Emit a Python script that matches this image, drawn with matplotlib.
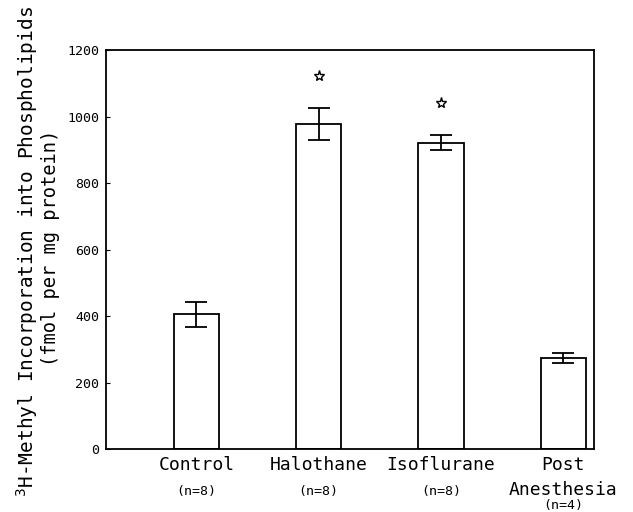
import numpy as np
import matplotlib
matplotlib.use('Agg')
import matplotlib.pyplot as plt
import matplotlib.transforms as mtransforms

groups = ['Control', 'Halothane', 'Isoflurane', 'Post\nAnesthesia']
n_labels = ['(n=8)', '(n=8)', '(n=8)', '(n=4)']
means = [405, 978, 922, 273]
errors = [38, 48, 22, 15]
star_y = [None, 1122, 1040, None]

plt.rcParams['font.family'] = 'DejaVu Sans Mono'

fig = plt.figure(figsize=(6.33, 5.12), dpi=100)
ax = fig.add_axes([0.1675, 0.123, 0.7705, 0.779])

x = np.arange(1, len(groups) + 1)
ax.bar(x, means, width=0.37, color='white', edgecolor='black', linewidth=1.3)
ax.errorbar(x, means, yerr=errors, fmt='none', ecolor='black',
            elinewidth=1.3, capsize=8, capthick=1.3)
for xi, sy in zip(x, star_y):
    if sy is not None:
        ax.plot(xi, sy, marker='*', markersize=8, markerfacecolor='white',
                markeredgecolor='black', markeredgewidth=1.0)

ax.set_xlim(0.26, 4.25)
ax.set_ylim(0, 1200)
ax.set_yticks(np.arange(0, 1201, 200))
ax.set_xticks([])
ax.tick_params(axis='y', direction='in', length=3, labelsize=9.5, pad=5)
for s in ax.spines.values():
    s.set_linewidth(1.3)

# category labels under the bars
trans = mtransforms.blended_transform_factory(ax.transData, fig.transFigure)
for xi, g, nl in zip(x, groups, n_labels):
    lines = g.split('\n')
    y0 = 1 - 465 / 512
    for k, line in enumerate(lines):
        ax.text(xi, y0 - k * 0.048, line, transform=trans, ha='center',
                va='center', fontsize=13)
    ny = 1 - (491 + (len(lines) - 1) * 15) / 512
    ax.text(xi, ny, nl, transform=trans, ha='center', va='center', fontsize=9.5)

fig.text(0.042, 0.508, r'$^{\mathsf{3}}$H-Methyl Incorporation into Phospholipids',
         rotation=90, ha='center', va='center', fontsize=14)
fig.text(0.079, 0.516, '(fmol per mg protein)', rotation=90,
         ha='center', va='center', fontsize=13.5)

fig.savefig('out.png', dpi=100)
